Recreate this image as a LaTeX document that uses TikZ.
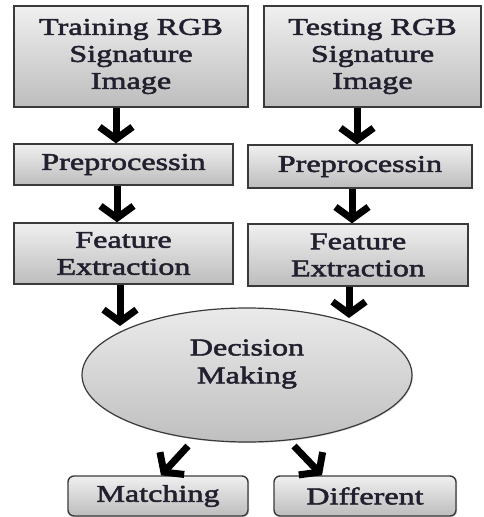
\documentclass[tikz,border=0pt]{standalone}
\usepackage{fontspec}
\setmainfont[FakeStretch=1.34,FakeBold=2.2]{Liberation Serif}
\usetikzlibrary{arrows.meta,shapes.geometric,shadows}
\definecolor{txt}{HTML}{22202E}
\definecolor{edge}{HTML}{3A3A3A}
\tikzset{
  stepbox/.style={draw=edge, line width=1.4pt, top color=white!94!black, bottom color=black!26,
    align=center, text=txt, inner sep=0pt, font=\fontsize{24}{27}\selectfont,
    drop shadow={opacity=0.35, shadow xshift=1pt, shadow yshift=-1pt}},
  resbox/.style={stepbox, rounded corners=6pt},
  decide/.style={ellipse, draw=edge, line width=1.2pt, top color=black!8, bottom color=black!25,
    align=center, text=txt, inner sep=0pt, font=\fontsize{24}{28}\selectfont,
    drop shadow={opacity=0.3, shadow xshift=1pt, shadow yshift=-1pt}},
  arr/.style={line width=7pt, -{Straight Barb[length=12pt,width=33pt]}, black},
}
\begin{document}
\begin{tikzpicture}[x=1pt,y=-1pt]
\useasboundingbox (0,0) rectangle (483,517);
\node[stepbox, minimum width=234pt, minimum height=101pt] (train) at (131,56.5) {Training RGB\\Signature\\Image};
\node[stepbox, minimum width=217pt, minimum height=101pt] (test) at (372.5,56.5) {Testing RGB\\Signature\\Image};
\node[stepbox, minimum width=219pt, minimum height=41pt] (pre1) at (123.5,164.5) {Preprocessin};
\node[stepbox, minimum width=224pt, minimum height=43pt] (pre2) at (360,166.5) {Preprocessin};
\node[stepbox, minimum width=219pt, minimum height=61pt] (feat1) at (123.5,253.5) {Feature\\Extraction};
\node[stepbox, minimum width=220pt, minimum height=62pt] (feat2) at (358,255) {Feature\\Extraction};
\node[decide, minimum width=330pt, minimum height=134pt] (dec) at (247,375) {};
\node[text=txt, align=center, inner sep=0pt, font=\fontsize{24}{28}\selectfont] (dectext) at (247,364) {Decision\\Making};
\node[resbox, minimum width=180pt, minimum height=40pt] (match) at (158,496) {Matching};
\node[resbox, minimum width=182pt, minimum height=40pt] (diff) at (365,496) {Different};
\coordinate (l3) at (120,326);
\coordinate (r3) at (349,318);
\coordinate (ld) at (188,446);
\coordinate (rd) at (294,446);
\draw[arr] (train.south -| 116,0) -- (pre1.north -| 116,0);
\draw[arr] (test.south -| 357,0) -- (pre2.north -| 357,0);
\draw[arr] (pre1.south -| 117,0) -- (feat1.north -| 117,0);
\draw[arr] (pre2.south -| 352,0) -- (feat2.north -| 352,0);
\draw[arr] (feat1.south -| 120,0) -- (l3);
\draw[arr] (feat2.south -| 349,0) -- (r3);
\draw[arr] (ld) -- (match.north -| 161,0);
\draw[arr] (rd) -- (diff.north -| 322,0);
\end{tikzpicture}
\end{document}
